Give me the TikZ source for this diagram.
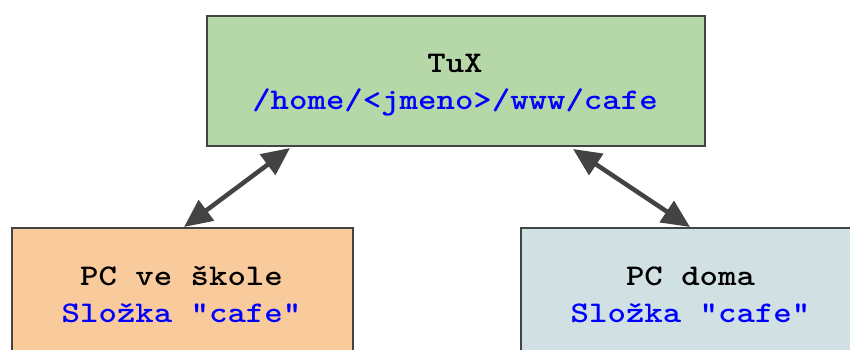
\documentclass[tikz,border=0pt]{standalone}
\usepackage{fontspec}
\setmonofont[FakeStretch=1.17,BoldFont=lmmonolt10-bold.otf,Path=]{lmmonolt10-bold.otf}
\usetikzlibrary{arrows.meta}
\definecolor{gfill}{HTML}{B6D7A8}
\definecolor{ofill}{HTML}{F9CB9C}
\definecolor{bfill}{HTML}{D0E0E3}
\definecolor{edgec}{HTML}{434343}
\definecolor{bluet}{HTML}{0000FF}
\begin{document}
\begin{tikzpicture}[x=1pt,y=-1pt,
  boxn/.style={draw=edgec,line width=1.7pt,inner sep=0pt,anchor=north west},
  labeln/.style={font=\ttfamily\bfseries\fontsize{30}{37}\selectfont,align=center,inner sep=0pt},
  link/.style={draw=edgec,line width=4.5pt,{Triangle[length=28pt,width=25pt]}-{Triangle[length=28pt,width=25pt]}}]
\useasboundingbox (0,0) rectangle (850,349);
\node[boxn,fill=gfill,minimum width=498pt,minimum height=130pt] (tux) at (206,15) {};
\begin{scope}
\clip (0,0) rectangle (850,349);
\node[boxn,fill=ofill,minimum width=341pt,minimum height=130pt] (skola) at (11,227) {};
\node[boxn,fill=bfill,minimum width=341pt,minimum height=130pt] (doma) at (520,227) {};
\end{scope}
\node[labeln] (tt) at (455,85) {TuX\\\textcolor{bluet}{/home/<jmeno>/www/cafe}};
\node[labeln] (st) at (181.5,295) {PC ve škole\\\textcolor{bluet}{Složka "cafe"}};
\node[labeln] (dt) at (690.5,295) {PC doma\\\textcolor{bluet}{Složka "cafe"}};
\coordinate (a1) at (290,148);
\coordinate (a2) at (184,227);
\coordinate (b1) at (573,149);
\coordinate (b2) at (690,227);
\draw[link] (a1) -- (a2);
\draw[link] (b1) -- (b2);
\end{tikzpicture}
\end{document}
